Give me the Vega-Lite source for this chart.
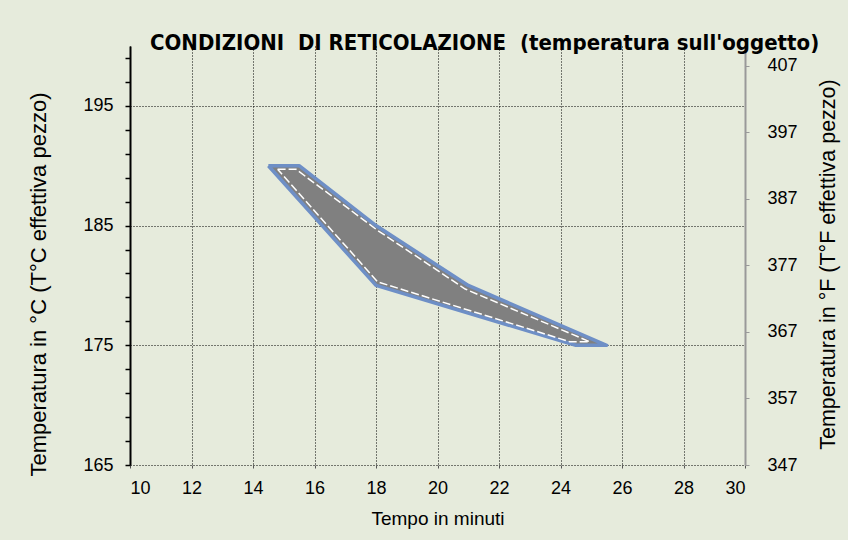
{
  "$schema": "https://vega.github.io/schema/vega-lite/v6.json",
  "width": 615,
  "height": 419,
  "autosize": {"type": "none"},
  "padding": {"left": 130, "top": 46, "right": 103, "bottom": 75},
  "background": "#E6EBDC",
  "config": {"view": {"stroke": null}, "font": "Liberation Sans"},
  "title": {
    "text": "CONDIZIONI\u00a0 DI RETICOLAZIONE\u00a0 (temperatura sull'oggetto)",
    "font": "DejaVu Sans Condensed, Liberation Sans",
    "fontWeight": "bold",
    "fontSize": 22,
    "color": "#000000",
    "anchor": "start",
    "frame": "group",
    "dx": 20,
    "offset": -26,
    "baseline": "alphabetic"
  },
  "datasets": {
    "poligono": [
      {"bordo": "esterno", "i": 0, "tempo": 14.5, "tempC": 190},
      {"bordo": "esterno", "i": 1, "tempo": 15.5, "tempC": 190},
      {"bordo": "esterno", "i": 2, "tempo": 18, "tempC": 185},
      {"bordo": "esterno", "i": 3, "tempo": 21, "tempC": 180},
      {"bordo": "esterno", "i": 4, "tempo": 25.5, "tempC": 175},
      {"bordo": "esterno", "i": 5, "tempo": 24.5, "tempC": 175},
      {"bordo": "esterno", "i": 6, "tempo": 18, "tempC": 180},
      {"bordo": "esterno", "i": 7, "tempo": 14.5, "tempC": 190},
      {"bordo": "interno", "i": 0, "tempo": 14.8, "tempC": 189.7},
      {"bordo": "interno", "i": 1, "tempo": 15.4, "tempC": 189.7},
      {"bordo": "interno", "i": 2, "tempo": 18.05, "tempC": 184.6},
      {"bordo": "interno", "i": 3, "tempo": 20.9, "tempC": 179.7},
      {"bordo": "interno", "i": 4, "tempo": 24.95, "tempC": 175.3},
      {"bordo": "interno", "i": 5, "tempo": 24.3, "tempC": 175.3},
      {"bordo": "interno", "i": 6, "tempo": 18.05, "tempC": 180.3},
      {"bordo": "interno", "i": 7, "tempo": 14.8, "tempC": 189.7}
    ]
  },
  "layer": [
    {
      "data": {"name": "poligono"},
      "encoding": {
        "x": {
          "field": "tempo",
          "type": "quantitative",
          "scale": {"domain": [10, 30], "nice": false, "zero": false},
          "axis": {
            "values": [10, 12, 14, 16, 18, 20, 22, 24, 26, 28, 30],
            "grid": true,
            "gridColor": "#000000",
            "gridDash": [1, 2],
            "gridOpacity": 1,
            "domain": false,
            "ticks": true,
            "tickColor": "#555555",
            "tickSize": 3,
            "labelFontSize": 18,
            "labelColor": "#000000",
            "labelPadding": 11,
            "title": "Tempo in minuti",
            "titleFontSize": 19,
            "titleFontWeight": "normal",
            "titleColor": "#000000",
            "titlePadding": 12
          }
        },
        "y": {
          "field": "tempC",
          "type": "quantitative",
          "scale": {"domain": [165, 200], "nice": false, "zero": false},
          "axis": {
            "values": [165, 167, 169, 171, 173, 175, 177, 179, 181, 183, 185, 187, 189, 191, 193, 195, 197, 199],
            "labelExpr": "datum.value % 10 == 5 ? datum.label : ''",
            "grid": true,
            "gridColor": "#000000",
            "gridDash": [1, 2],
            "gridOpacity": {"condition": {"test": "datum.value % 10 == 5", "value": 1}, "value": 0},
            "domainColor": "#000000",
            "domainWidth": 2,
            "tickColor": "#000000",
            "tickSize": 5,
            "tickWidth": 1.5,
            "labelFontSize": 18,
            "labelColor": "#000000",
            "labelPadding": 12,
            "title": "Temperatura in °C (T°C effettiva pezzo)",
            "titleFontSize": 22,
            "titleFontWeight": "normal",
            "titleColor": "#000000",
            "titlePadding": 32,
            "titleY": 238
          }
        },
        "order": {"field": "i", "type": "quantitative"}
      },
      "layer": [
        {
          "transform": [{"filter": "datum.bordo == 'esterno'"}],
          "mark": {"type": "line", "fill": "#808080", "stroke": "#6E8FC6", "strokeWidth": 3.5, "strokeJoin": "round"}
        },
        {
          "transform": [{"filter": "datum.bordo == 'interno'"}],
          "mark": {"type": "line", "stroke": "#FFFFFF", "strokeWidth": 1.5, "strokeDash": [8, 3]}
        }
      ]
    },
    {
      "data": {"values": [{}]},
      "mark": {"type": "rule", "opacity": 0},
      "encoding": {
        "y": {
          "datum": 347,
          "type": "quantitative",
          "scale": {"domain": [347, 410], "nice": false, "zero": false},
          "axis": {
            "orient": "right",
            "values": [347, 357, 367, 377, 387, 397, 407],
            "grid": false,
            "domainColor": "#999999",
            "domainWidth": 2,
            "tickColor": "#999999",
            "tickSize": 4,
            "labelFontSize": 18,
            "labelColor": "#000000",
            "labelPadding": 18,
            "title": "Temperatura in °F (T°F effettiva pezzo)",
            "titleAngle": 270,
            "titleFontSize": 21.5,
            "titleFontWeight": "normal",
            "titleColor": "#000000",
            "titlePadding": 42,
            "titleY": 218
          }
        }
      }
    }
  ],
  "resolve": {"scale": {"y": "independent"}, "axis": {"y": "independent"}}
}
